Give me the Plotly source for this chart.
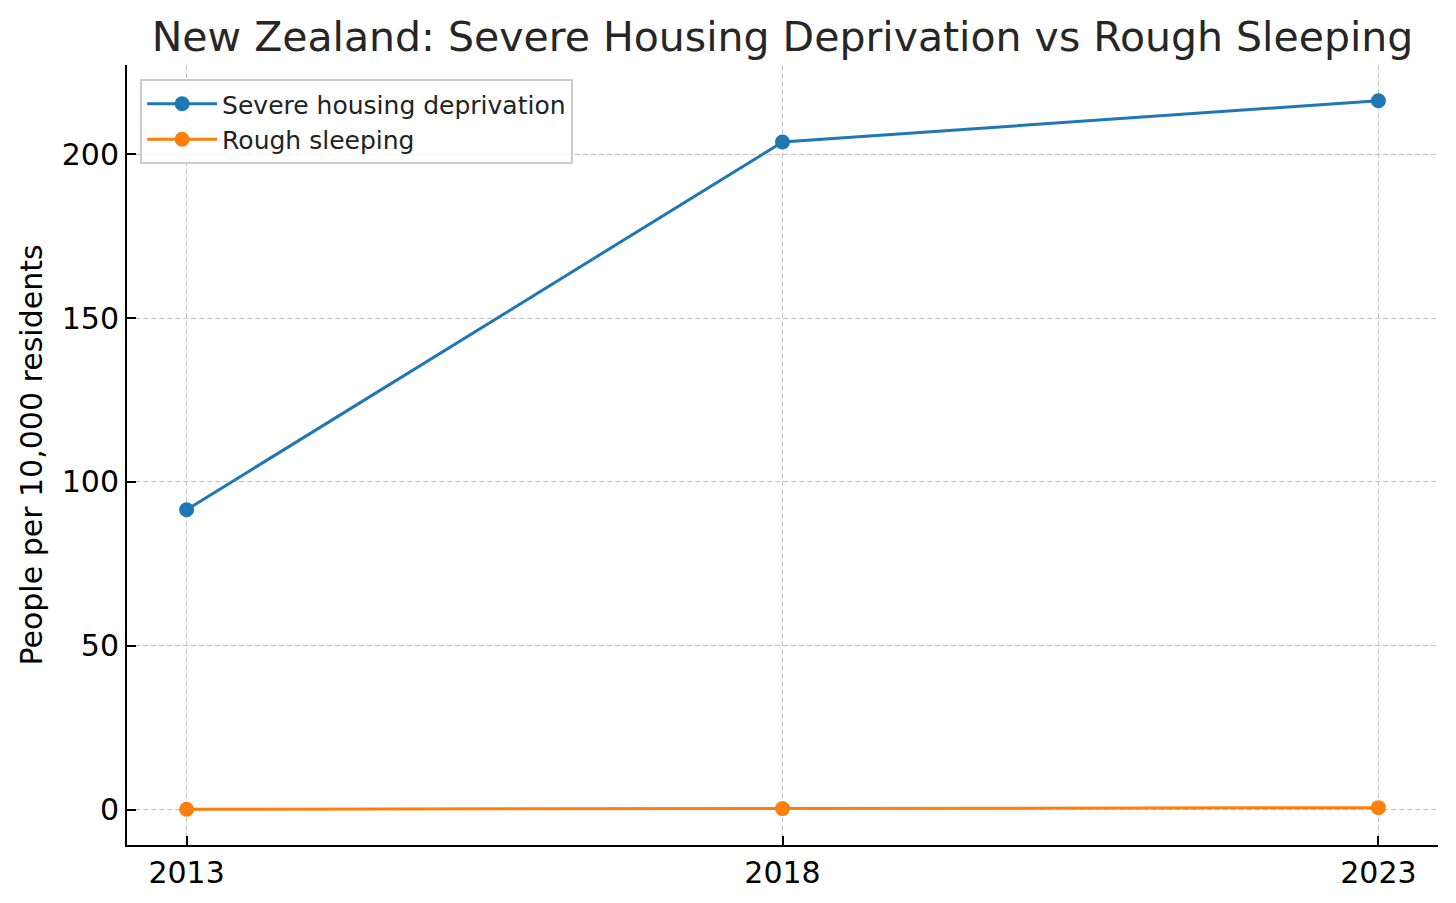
import plotly.graph_objects as go

years = [2013, 2018, 2023]
severe_housing = [91.5, 203.7, 216.3]
rough_sleeping = [0.1, 0.3, 0.6]
x_ticks = [2013, 2018, 2023]
y_ticks = [0, 50, 100, 150, 200]

FONT = "DejaVu Sans"

fig = go.Figure()
fig.add_trace(go.Scatter(
    x=years, y=severe_housing, mode="lines+markers", name="Severe housing deprivation",
    line=dict(color="#1f77b4", width=3), marker=dict(size=15, color="#1f77b4"),
))
fig.add_trace(go.Scatter(
    x=years, y=rough_sleeping, mode="lines+markers", name="Rough sleeping",
    line=dict(color="#ff7f0e", width=3), marker=dict(size=15, color="#ff7f0e"),
))

fig.update_layout(
    width=1440, height=887,
    margin=dict(l=119, r=10, t=57, b=50, autoexpand=False),
    paper_bgcolor="white", plot_bgcolor="white",
    font=dict(family=FONT, color="#222222", size=30),
    title=dict(text="New Zealand: Severe Housing Deprivation vs Rough Sleeping",
               x=0.5, xref="paper", xanchor="center",
               y=1 - 29 / 887, yref="container", yanchor="middle",
               font=dict(family=FONT, size=41, color="#262626")),
    showlegend=True,
    legend=dict(x=0.01, y=0.982, xanchor="left", yanchor="top",
                bgcolor="rgba(255,255,255,0.85)", bordercolor="#cccccc", borderwidth=2,
                font=dict(family=FONT, size=25, color="#222222"),
                tracegroupgap=0, itemwidth=70),
)

fig.update_xaxes(
    range=[2012.5, 2023.5], tickmode="array", tickvals=x_ticks, ticktext=[str(t) for t in x_ticks],
    showgrid=True, gridcolor="#c4c4c4", griddash="5px,3px", gridwidth=1,
    showline=True, linecolor="black", linewidth=2, mirror=False,
    ticks="inside", ticklen=9, tickwidth=2, tickcolor="black",
    zeroline=False, automargin=False, tickfont=dict(family=FONT, size=30, color="black"),
)
fig.update_yaxes(
    range=[-10.8, 227.2], tickmode="array", tickvals=y_ticks,
    showgrid=True, gridcolor="#c4c4c4", griddash="5px,3px", gridwidth=1,
    showline=True, linecolor="black", linewidth=2, mirror=False,
    ticks="inside", ticklen=9, tickwidth=2, tickcolor="black",
    zeroline=False, automargin=False, tickfont=dict(family=FONT, size=30, color="black"),
    title=dict(text="People per 10,000 residents", standoff=10,
               font=dict(family=FONT, size=30, color="black")),
)

fig.write_html("out.html")
